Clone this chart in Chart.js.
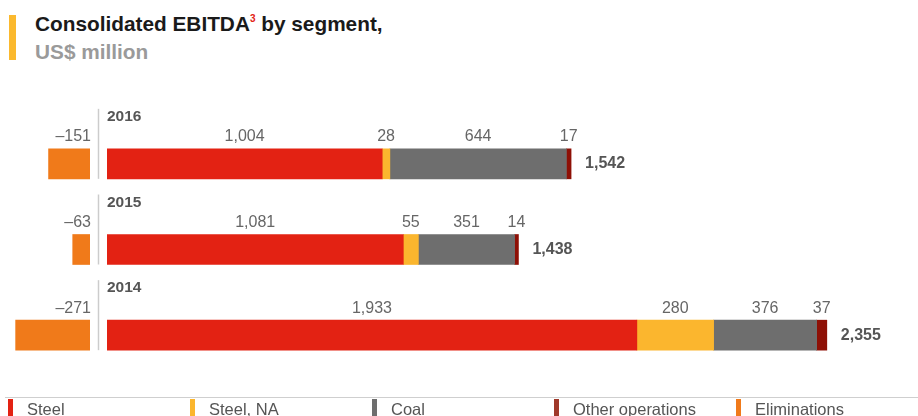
<!DOCTYPE html>
<html>
<head>
<meta charset="utf-8">
<script src="https://cdn.jsdelivr.net/npm/chart.js@4.4.0/dist/chart.umd.min.js"></script>
<style>
  html, body { margin: 0; padding: 0; background: #fff; }
  body { width: 918px; height: 416px; position: relative; overflow: hidden; font-family: "Liberation Sans", Arial, sans-serif; }
  #mark { position: absolute; left: 9px; top: 15px; width: 7px; height: 45px; background: #fbb92e; }
  #title { position: absolute; left: 35px; top: 10px; font-weight: bold; font-size: 20.8px; line-height: 28px; color: #1a1a1a; }
  #title sup { color: #e32213; font-size: 10px; vertical-align: 9px; line-height: 0; }
  #title .sub { color: #9a9a9a; }
  canvas { position: absolute; left: 0; top: 0; }
  #legend { position: absolute; left: 5px; right: 0; top: 397px; height: 19px; border-top: 1.5px solid #cfcfcf; }
  .item { position: absolute; top: 1px; height: 20px; }
  .item i { position: absolute; left: 0; top: 0; width: 5px; height: 20px; }
  .item span { position: absolute; left: 19px; top: 1px; font-size: 16.5px; color: #555; white-space: nowrap; }
</style>
</head>
<body>
<div id="mark"></div>
<div id="title">Consolidated EBITDA<sup>3</sup> by segment,<br><span class="sub">US$ million</span></div>
<canvas id="leftChart" width="918" height="416"></canvas>
<canvas id="rightChart" width="918" height="416"></canvas>
<div id="legend"></div>

<script>
/*---- data ----*/
var years = ['2016', '2015', '2014'];
var steel = [1004, 1081, 1933];
var steelNA = [28, 55, 280];
var coal = [644, 351, 376];
var otherOps = [17, 14, 37];
var eliminations = [-151, -63, -271];
var totals = [1542, 1438, 2355];

var segNames = ['Steel', 'Steel, NA', 'Coal', 'Other operations', 'Eliminations'];
var segColors = ['#e32213', '#fbb62e', '#6e6e6e', '#8e1006', '#f07a1a'];
var legendColors = ['#e32213', '#fbb62e', '#6e6e6e', '#a0392a', '#f07a1a'];

/*---- helpers ----*/
function fmt(v) {
    var s = Math.abs(v).toLocaleString('en-US');
    return v < 0 ? '\u2013' + s : s;
}

function barProps(bar) {
    return bar.getProps(['x', 'y', 'base', 'height'], true);
}

// value labels over every segment
var segLabels = {
    id: 'segLabels',
    afterDatasetsDraw: function(chart, args, opts) {
        var ctx = chart.ctx;
        ctx.save();
        ctx.font = '16px "Liberation Sans", Arial, sans-serif';
        ctx.fillStyle = '#666';
        ctx.textBaseline = 'middle';
        chart.data.datasets.forEach(function(ds, d) {
            var meta = chart.getDatasetMeta(d);
            meta.data.forEach(function(bar, i) {
                var p = barProps(bar);
                var top = p.y - p.height / 2;
                if (opts.side === 'left') {
                    ctx.textAlign = 'right';
                    ctx.fillText(fmt(ds.data[i]), p.base + 1, top - 12);
                } else {
                    ctx.textAlign = 'center';
                    ctx.fillText(fmt(ds.data[i]), (p.x + p.base) / 2, top - 12);
                }
            });
        });

        if (opts.side === 'right') {
            var last = chart.getDatasetMeta(chart.data.datasets.length - 1);
            last.data.forEach(function(bar, i) {
                var p = barProps(bar);
                var top = p.y - p.height / 2;
                // totals
                ctx.font = 'bold 16px "Liberation Sans", Arial, sans-serif';
                ctx.fillStyle = '#555';
                ctx.textAlign = 'left';
                ctx.fillText(fmt(totals[i]), p.x + 14, p.y);
                // year heading
                ctx.font = 'bold 15.5px "Liberation Sans", Arial, sans-serif';
                ctx.fillText(years[i], chart.chartArea.left, top - 32);
                // divider
                ctx.strokeStyle = '#cccccc';
                ctx.lineWidth = 1.5;
                ctx.beginPath();
                ctx.moveTo(98.5, top - 40);
                ctx.lineTo(98.5, top + p.height);
                ctx.stroke();
            });
        }
        ctx.restore();
    }
};

function makeChart(id, datasets, xmin, xmax, pad, side) {
    return new Chart(document.getElementById(id), {
        type: 'bar',
        data: { labels: years, datasets: datasets },
        options: {
            indexAxis: 'y',
            responsive: false,
            animation: false,
            layout: { padding: pad },
            scales: {
                x: { stacked: true, display: false, min: xmin, max: xmax },
                y: { stacked: true, display: false }
            },
            plugins: {
                legend: { display: false },
                tooltip: { enabled: false },
                segLabels: { side: side }
            }
        },
        plugins: [segLabels]
    });
}

var posSeries = [steel, steelNA, coal, otherOps];
var rightSets = posSeries.map(function(arr, k) {
    return { label: segNames[k], data: arr, backgroundColor: segColors[k], barThickness: 30, borderWidth: 0 };
});
var leftSets = [{ label: segNames[4], data: eliminations, backgroundColor: segColors[4], barThickness: 30, borderWidth: 0 }];

makeChart('rightChart', rightSets, 0, 2955, { left: 107, right: 1, top: 121, bottom: 38 }, 'right');
makeChart('leftChart', leftSets, -328, 0, { left: 0, right: 828, top: 121, bottom: 38 }, 'left');

/*---- legend strip ----*/
var legend = document.getElementById('legend');
segNames.forEach(function(name, k) {
    var it = document.createElement('div');
    it.className = 'item';
    it.style.left = (3 + 182 * k) + 'px';
    it.innerHTML = '<i style="background:' + legendColors[k] + '"></i><span>' + name + '</span>';
    legend.appendChild(it);
});
</script>
</body>
</html>
